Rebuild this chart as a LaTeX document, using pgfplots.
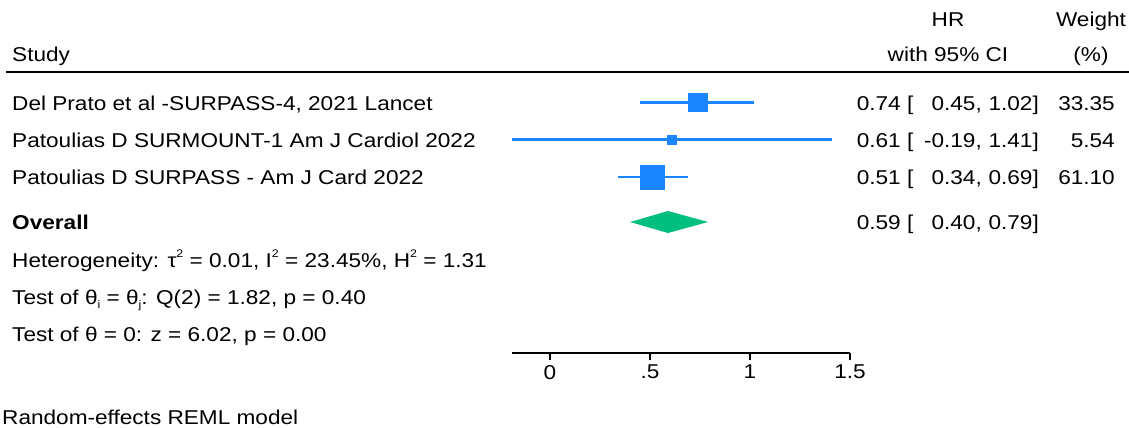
\documentclass[border=0pt]{standalone}
\usepackage{fontspec}
\setmainfont{Liberation Sans}[FakeStretch=1.13]
\usepackage{pgfplots}
\pgfplotsset{compat=1.18}
\definecolor{stcblue}{RGB}{26,133,255}
\definecolor{stcgreen}{RGB}{0,191,127}
\newcommand{\fs}{\fontsize{20}{23}\selectfont}
\newcommand{\sub}[1]{\raisebox{-0.35ex}{\fontsize{11}{12}\selectfont #1}}
\newcommand{\sups}[1]{\raisebox{0.95ex}{\fontsize{11}{12}\selectfont #1}}
\begin{document}
\begin{tikzpicture}
\path[use as bounding box] (0pt,0pt) rectangle (1129pt,-428pt);
\begin{axis}[at={(512pt,-353pt)}, anchor=south west, scale only axis,
  width=338pt, height=280pt,
  xmin=-0.19, xmax=1.5, ymin=-353, ymax=-73,
  axis x line*=bottom, hide y axis, clip=false,
  x axis line style={-, line width=1.6pt},
  xtick={0,0.5,1,1.5}, xticklabels={0,.5,1,1.5},
  tick align=outside, major tick length=7pt,
  tick style={black, line width=1.6pt},
  /pgf/number format/assume math mode=true,
  xticklabel style={font=\fs, inner sep=0pt, anchor=north, yshift=-5pt},
]
\addplot[color=stcblue, line width=2.2pt] coordinates {(0.45,-102.5) (1.02,-102.5)};
\addplot[color=stcblue, line width=2.2pt] coordinates {(-0.19,-139.5) (1.41,-139.5)};
\addplot[color=stcblue, line width=2.2pt] coordinates {(0.34,-177) (0.69,-177)};
\addplot[color=stcblue, only marks, mark=square*, mark size=9.2pt, mark options={draw=stcblue, fill=stcblue, line width=0pt}] coordinates {(0.74,-102.5)};
\addplot[color=stcblue, only marks, mark=square*, mark size=4.5pt, mark options={draw=stcblue, fill=stcblue, line width=0pt}] coordinates {(0.61,-139.5)};
\addplot[color=stcblue, only marks, mark=square*, mark size=12pt, mark options={draw=stcblue, fill=stcblue, line width=0pt}] coordinates {(0.51,-177)};
\addplot[fill=stcgreen, draw=none] coordinates {(0.40,-222) (0.59,-211) (0.79,-222) (0.59,-233)} -- cycle;
\end{axis}
\begin{scope}[x=1pt, y=-1pt, every node/.style={font=\fs, inner sep=0pt}]
\draw[line width=2pt] (6,72) -- (1129,72);
\node[anchor=base west] at (12,61) {Study};
\node[anchor=base] at (948,27) {HR};
\node[anchor=base] at (948,62) {with 95\% CI};
\node[anchor=base] at (1091,27) {Weight};
\node[anchor=base] at (1091,62) {(\%)};
% rows
\node[anchor=base west] at (12,110) {Del Prato et al -SURPASS-4, 2021 Lancet};
\node[anchor=base west] at (12,147) {Patoulias D SURMOUNT-1 Am J Cardiol 2022};
\node[anchor=base west] at (12,184.5) {Patoulias D SURPASS - Am J Card 2022};
\node[anchor=base west] at (12,229.5) {\bfseries Overall};
\node[anchor=base west] at (12,267.5) {Heterogeneity: τ\sups{2} = 0.01, I\sups{2} = 23.45\%, H\sups{2} = 1.31};
\node[anchor=base west] at (12,304.5) {Test of θ\sub{i} = θ\sub{j}: Q(2) = 1.82, p = 0.40};
\node[anchor=base west] at (12,341.5) {Test of θ = 0: z = 6.02, p = 0.00};
\node[anchor=base west] at (2,424) {Random-effects REML model};
% numbers
\foreach \y/\hr/\lo/\hi/\w in {110/0.74/0.45/1.02/33.35, 147/0.61/-0.19/1.41/5.54, 184.5/0.51/0.34/0.69/61.10, 229.5/0.59/0.40/0.79/}{
  \node[anchor=base east] at (901,\y) {\hr};
  \node[anchor=base west] at (907,\y) {[};
  \node[anchor=base east] at (982,\y) {\lo,};
  \node[anchor=base east] at (1039,\y) {\hi]};
  \node[anchor=base east] at (1115,\y) {\w};
}
\end{scope}
\end{tikzpicture}
\end{document}
